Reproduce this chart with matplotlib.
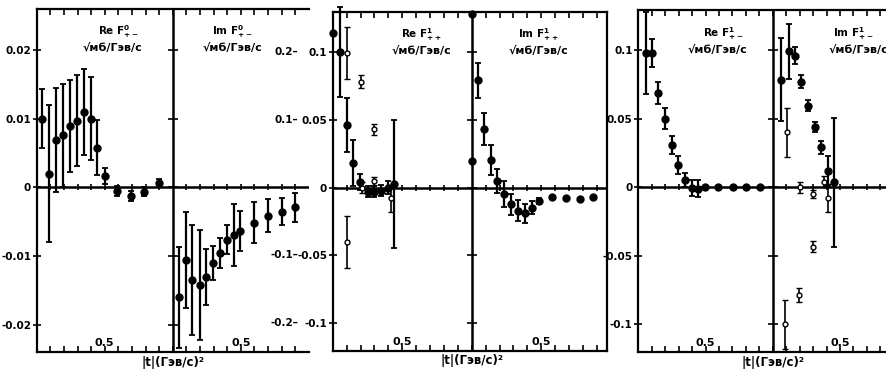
import numpy as np
import matplotlib
matplotlib.use('Agg')
import matplotlib.pyplot as plt
from matplotlib import font_manager as fm

# condensed face if present, looks closer to the old typewriter lettering
installed = {f.name for f in fm.fontManager.ttflist}
narrow = 'Liberation Sans Narrow' if 'Liberation Sans Narrow' in installed else 'DejaVu Sans'
plt.rcParams['font.family'] = [narrow, 'DejaVu Sans']
plt.rcParams['font.weight'] = 'bold'
plt.rcParams['mathtext.default'] = 'bf'

#%% data  (t = |t| in (GeV/c)^2 within each half)
# panel 1 : F0+-
p1_re_t = [0.04, 0.09, 0.14, 0.19, 0.245, 0.295, 0.35, 0.40, 0.445, 0.50, 0.59, 0.69, 0.79, 0.90]
p1_re_v = [0.0100, 0.0020, 0.0069, 0.0076, 0.0089, 0.0097, 0.0110, 0.0100, 0.0058, 0.0017,
           -0.0005, -0.0012, -0.0006, 0.0007]
p1_re_e = [0.0043, 0.0100, 0.0075, 0.0075, 0.0067, 0.0066, 0.0063, 0.0060, 0.0040, 0.0012,
           0.0007, 0.0007, 0.0007, 0.0006]
p1_im_t = [0.044, 0.098, 0.145, 0.20, 0.248, 0.297, 0.348, 0.40, 0.449, 0.498, 0.60, 0.70, 0.80, 0.90]
p1_im_v = [-0.0160, -0.0105, -0.0135, -0.0142, -0.0130, -0.0110, -0.0095, -0.0076, -0.0069,
           -0.0063, -0.0051, -0.0041, -0.0035, -0.0029]
p1_im_e = [0.0073, 0.0070, 0.0080, 0.0080, 0.0041, 0.0025, 0.0022, 0.0021, 0.0045, 0.0029,
           0.0030, 0.0024, 0.0020, 0.0021]

# panel 2 : F1++
p2_re_t = [0.004, 0.053, 0.105, 0.148, 0.196, 0.252, 0.30, 0.347, 0.40, 0.443]
p2_re_v = [0.1135, 0.0999, 0.046, 0.0180, 0.0041, -0.0032, -0.0032, -0.0025, 0.0000, 0.0027]
p2_re_e = [0.0, 0.033, 0.020, 0.017, 0.006, 0.004, 0.004, 0.004, 0.005, 0.047]
p2_reo_t = [0.105, 0.10, 0.204, 0.209, 0.30, 0.30, 0.417]
p2_reo_v = [0.099, -0.040, 0.078, 0.000, 0.043, 0.0049, -0.008]
p2_reo_e = [0.019, 0.019, 0.005, 0.004, 0.004, 0.003, 0.010]
p2_im_t = [0.0, 0.0, 0.043, 0.091, 0.139, 0.184, 0.235, 0.285, 0.331, 0.384, 0.432, 0.485,
           0.578, 0.678, 0.777, 0.875]
p2_im_v = [0.128, 0.0195, 0.079, 0.043, 0.0205, 0.005, -0.005, -0.0125, -0.017, -0.019,
           -0.0148, -0.010, -0.0071, -0.0079, -0.0084, -0.0071]
p2_im_e = [0.0, 0.0, 0.013, 0.012, 0.011, 0.009, 0.0095, 0.008, 0.0075, 0.007, 0.005, 0.002,
           0.0, 0.0, 0.0, 0.0]

# panel 3 : F1+-
p3_re_t = [0.055, 0.104, 0.149, 0.199, 0.248, 0.298, 0.347, 0.397, 0.447, 0.496, 0.596, 0.702, 0.801, 0.906]
p3_re_v = [0.0976, 0.098, 0.069, 0.050, 0.031, 0.016, 0.0054, -0.0005, -0.001, 0.0, 0.0, 0.0, 0.0, 0.0]
p3_re_e = [0.030, 0.010, 0.008, 0.0075, 0.0065, 0.0065, 0.005, 0.006, 0.006, 0.0, 0.0, 0.0, 0.0, 0.0]
p3_im_t = [0.062, 0.119, 0.169, 0.213, 0.266, 0.313, 0.362, 0.409, 0.459]
p3_im_v = [0.0785, 0.099, 0.096, 0.077, 0.0595, 0.044, 0.029, 0.012, 0.0037]
p3_im_e = [0.030, 0.020, 0.006, 0.005, 0.004, 0.0035, 0.005, 0.011, 0.047]
p3_imo_t = [0.109, 0.203, 0.303, 0.303, 0.194, 0.089, 0.385, 0.409]
p3_imo_v = [0.040, 0.0, -0.005, -0.0435, -0.0785, -0.100, 0.004, -0.008]
p3_imo_e = [0.018, 0.004, 0.003, 0.004, 0.005, 0.018, 0.004, 0.010]

p1_yticks = [-0.02, -0.01, 0, 0.01, 0.02]
p1_ylab = ['-0.02', '-0.01', '0', '0.01', '0.02']
p23_yticks = [-0.1, -0.05, 0, 0.05, 0.1]
p23_ylab = ['-0.1', '-0.05', '0', '0.05', '0.1']
p2_outer = ['-0.2', '-0.1', '', '0.1', '0.2']

unit = '√мб/Гэв/с'
xlab = '|t|(Гэв/с)²'

fig = plt.figure(figsize=(8.87, 3.71), dpi=100)


def panel(rect, xmax, ylim, yticks, ylabels, show_right):
    ax = fig.add_axes(rect)
    ax.set_xlim(0, xmax)
    ax.set_ylim(*ylim)
    for s in ax.spines.values():
        s.set_linewidth(1.6)
    ax.spines['right'].set_visible(show_right)
    gx = np.arange(0.1, xmax, 0.1)
    ax.set_xticks(gx)
    ax.set_xticklabels([])
    ax.tick_params(axis='x', direction='in', length=4, width=1.2, top=True, bottom=True)
    ax.set_yticks(yticks)
    ax.set_yticklabels(ylabels)
    ax.tick_params(axis='y', direction='inout', length=6, width=1.2, pad=1, labelsize=7.5, right=False)
    ax.axhline(0, color='black', lw=1.8)
    ax.axvline(1, color='black', lw=1.8)
    gx = gx[np.abs(gx - 1) > 0.01]
    ax.plot(gx, np.zeros_like(gx), '|', color='k', ms=5, mew=1.2)
    ax.plot(np.ones(len(yticks)), yticks, '_', color='k', ms=7, mew=1.2)
    for x in (0.5, 1.5):
        if x < xmax:
            ax.text(x, 0.012, '0.5', transform=ax.get_xaxis_transform(), ha='center', va='bottom', fontsize=8)
    ax.text(1.0, -0.03, xlab, transform=ax.get_xaxis_transform(), ha='center', va='center', fontsize=8.5)
    return ax


def pts(ax, t, v, e, shift=0.0, open_=False):
    x = np.array(t) + shift
    if open_:
        ax.errorbar(x, v, yerr=e, fmt='o', ms=3.5, mfc='white', mec='black', mew=1.0,
                    ecolor='black', elinewidth=1.2, capsize=2, capthick=1.0, clip_on=False, zorder=4)
    else:
        ax.errorbar(x, v, yerr=e, fmt='o', ms=5, color='black', elinewidth=1.6,
                    capsize=2, capthick=1.3, clip_on=False, zorder=3)


def titles(ax, re_x, im_x, y, sup, sub, unit_dx=(0, 0)):
    for x, part, dx in ((re_x, 'Re', unit_dx[0]), (im_x, 'Im', unit_dx[1])):
        ax.text(x, y, part + ' F$^{' + sup + '}_{' + sub + '}$', transform=ax.get_xaxis_transform(),
                ha='center', va='center', fontsize=7.5)
        ax.text(x + dx, y - 0.048, unit, transform=ax.get_xaxis_transform(),
                ha='center', va='center', fontsize=8)


#%% panel 1
ax1 = panel([0.0414, 0.0512, 0.3067, 0.9245], 2.0, (-0.02393, 0.02596), p1_yticks, p1_ylab, False)
pts(ax1, p1_re_t, p1_re_v, p1_re_e)
pts(ax1, p1_im_t, p1_im_v, p1_im_e, shift=1.0)
titles(ax1, 0.60, 1.44, 0.935, '0', '+-', (-0.04, 0.0))

#%% panel 2
ax2 = panel([0.3751, 0.0547, 0.3092, 0.9137], 1.973, (-0.1202, 0.1295), p23_yticks, p23_ylab, True)
pts(ax2, p2_re_t, p2_re_v, p2_re_e)
pts(ax2, p2_reo_t, p2_reo_v, p2_reo_e, open_=True)
pts(ax2, p2_im_t, p2_im_v, p2_im_e, shift=1.0)
titles(ax2, 0.64, 1.477, 0.932, '1', '++')
# second (outer) scale on panel 2
for yv, lab in zip(p23_yticks, p2_outer):
    if lab:
        ax2.text(-0.127, yv, lab + '–', transform=ax2.get_yaxis_transform(), ha='right', va='center', fontsize=7.5)

#%% panel 3
ax3 = panel([0.7196, 0.0504, 0.2804, 0.9226], 1.85, (-0.1204, 0.1292), p23_yticks, p23_ylab, False)
pts(ax3, p3_re_t, p3_re_v, p3_re_e)
pts(ax3, p3_im_t, p3_im_v, p3_im_e, shift=1.0)
pts(ax3, p3_imo_t, p3_imo_v, p3_imo_e, shift=1.0, open_=True)
titles(ax3, 0.63, 1.60, 0.932, '1', '+-', (-0.04, 0.04))

fig.savefig('out.png', dpi=100)
